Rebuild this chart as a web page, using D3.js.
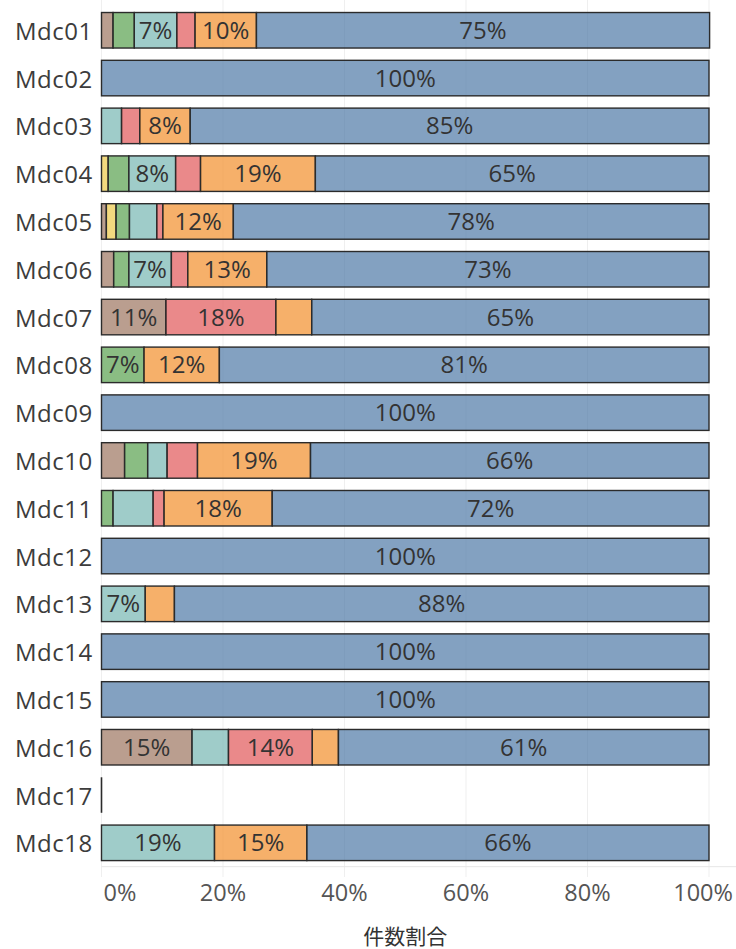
<!DOCTYPE html>
<html>
<head>
<meta charset="utf-8">
<script src="https://cdn.jsdelivr.net/npm/d3@7/dist/d3.min.js"></script>
<style>
  html, body { margin: 0; padding: 0; background: #fff; }
  svg { display: block; font-family: "Open Sans", "Noto Sans", sans-serif; }
  .grid line { stroke: #efefef; stroke-width: 1; }
  .seg { stroke: #2b2b2b; stroke-width: 1.4; fill-opacity: 0.7; }
  .seg-label { fill: #333; font-size: 24px; text-anchor: middle; }
  .row-label { fill: #3c3c3c; font-size: 24px; letter-spacing: 0.5px; }
  .tick-label { fill: #555; font-size: 23.5px; }
  .axis-title { fill: #333; font-size: 21px; text-anchor: middle; font-family: "Noto Sans CJK JP", sans-serif; }
</style>
</head>
<body>
<svg id="chart" width="736" height="949"></svg>
<script>
// ---- data (percent of count per Mdc) ----
const categories = ["Mdc01","Mdc02","Mdc03","Mdc04","Mdc05","Mdc06","Mdc07","Mdc08","Mdc09",
                    "Mdc10","Mdc11","Mdc12","Mdc13","Mdc14","Mdc15","Mdc16","Mdc17","Mdc18"];
const brown  = [1.9, 0, 0,    0,    0.8, 2.0, 10.6, 0,    0, 3.8,  0,    0, 0,    0, 0, 14.9, 0, 0];
const yellow = [0,   0, 0,    1.1,  1.6, 0,   0,    0,    0, 0,    0,    0, 0,    0, 0, 0,    0, 0];
const green  = [3.5, 0, 0,    3.4,  2.2, 2.5, 0,    7.0,  0, 3.8,  1.9,  0, 0,    0, 0, 0,    0, 0];
const teal   = [7.0, 0, 3.3,  7.7,  4.5, 7.0, 0,    0,    0, 3.2,  6.6,  0, 7.2,  0, 0, 6.0,  0, 18.6];
const red    = [3.0, 0, 3.0,  4.1,  1.0, 2.7, 18.1, 0,    0, 5.0,  1.8,  0, 0,    0, 0, 13.8, 0, 0];
const orange = [10.1,0, 8.3,  18.9, 11.6,13.0, 5.9, 12.4, 0, 18.6, 17.8, 0, 4.8,  0, 0, 4.3,  0, 15.2];
const blue   = [74.6,100,85.4,64.8, 78.3,72.8,65.4, 80.6, 100,65.6,71.9, 100,88.0,100,100,61.0, 0, 66.2];
const xTicks = [0, 20, 40, 60, 80, 100];
const axisTitle = "件数割合";

// series in stacking order, left -> right
const seriesKeys = ["brown", "yellow", "green", "teal", "red", "orange", "blue"];
const seriesVals = { brown, yellow, green, teal, red, orange, blue };
const seriesColor = {
  brown: "#9c755f", yellow: "#edc948", green: "#59a14f", teal: "#76b7b2",
  red: "#e15759", orange: "#f28e2b", blue: "#4e79a7",
};

const rows = categories.map((c, i) => {
  const r = { cat: c };
  for (const k of seriesKeys) r[k] = seriesVals[k][i];
  return r;
});

// ---- scales ----
const svg = d3.select("#chart");
const x = d3.scaleLinear().domain([0, 100]).range([101.5, 709]);
const y = d3.scaleBand().domain(categories).range([6.4, 866.7]).paddingInner(0.257).paddingOuter(0.128);

// ---- grid ----
svg.append("g").attr("class", "grid")
  .selectAll("line").data(xTicks).join("line")
  .attr("x1", (d) => x(d)).attr("x2", (d) => x(d))
  .attr("y1", 0).attr("y2", 877);
svg.append("line")
  .attr("x1", x(0)).attr("x2", 736).attr("y1", 866.7).attr("y2", 866.7)
  .attr("stroke", "#e6e6e6");

// ---- bars ----
const stack = d3.stack().keys(seriesKeys)(rows);
const layer = svg.append("g").selectAll("g").data(stack).join("g")
  .attr("fill", (s) => seriesColor[s.key]);

layer.selectAll("rect")
  .data((s) => s.filter((d) => d[1] - d[0] > 0))
  .join("rect")
  .attr("class", "seg")
  .attr("x", (d) => x(d[0]))
  .attr("y", (d) => y(d.data.cat))
  .attr("width", (d) => x(d[1]) - x(d[0]))
  .attr("height", y.bandwidth());

// rows with nothing in them still show a hairline at zero
svg.append("g").selectAll("line")
  .data(rows.filter((r) => d3.sum(seriesKeys, (k) => r[k]) === 0))
  .join("line")
  .attr("x1", x(0)).attr("x2", x(0))
  .attr("y1", (r) => y(r.cat)).attr("y2", (r) => y(r.cat) + y.bandwidth())
  .attr("stroke", "#2b2b2b").attr("stroke-width", 1.6);

// segment labels, only where they fit
const labels = [];
for (const s of stack) {
  for (const d of s) {
    const v = d[1] - d[0];
    if (v >= 6.9) labels.push({ cat: d.data.cat, mid: (d[0] + d[1]) / 2, v });
  }
}
svg.append("g").selectAll("text").data(labels).join("text")
  .attr("class", "seg-label")
  .attr("x", (d) => x(d.mid))
  .attr("y", (d) => y(d.cat) + y.bandwidth() / 2 + 8.5)
  .text((d) => `${Math.round(d.v)}%`);

// row headers
svg.append("g").selectAll("text").data(categories).join("text")
  .attr("class", "row-label")
  .attr("x", 15)
  .attr("y", (c) => y(c) + y.bandwidth() / 2 + 9.5)
  .text((c) => c);

// ---- x axis labels ----
svg.append("g").selectAll("text").data(xTicks).join("text")
  .attr("class", "tick-label")
  .attr("x", (d, i) => (i === 0 ? x(d) + 2 : i === xTicks.length - 1 ? 733 : x(d)))
  .attr("text-anchor", (d, i) => (i === 0 ? "start" : i === xTicks.length - 1 ? "end" : "middle"))
  .attr("y", 901)
  .text((d) => `${d}%`);

svg.append("text").attr("class", "axis-title")
  .attr("x", (x(0) + x(100)) / 2).attr("y", 944)
  .text(axisTitle);
</script>
</body>
</html>
